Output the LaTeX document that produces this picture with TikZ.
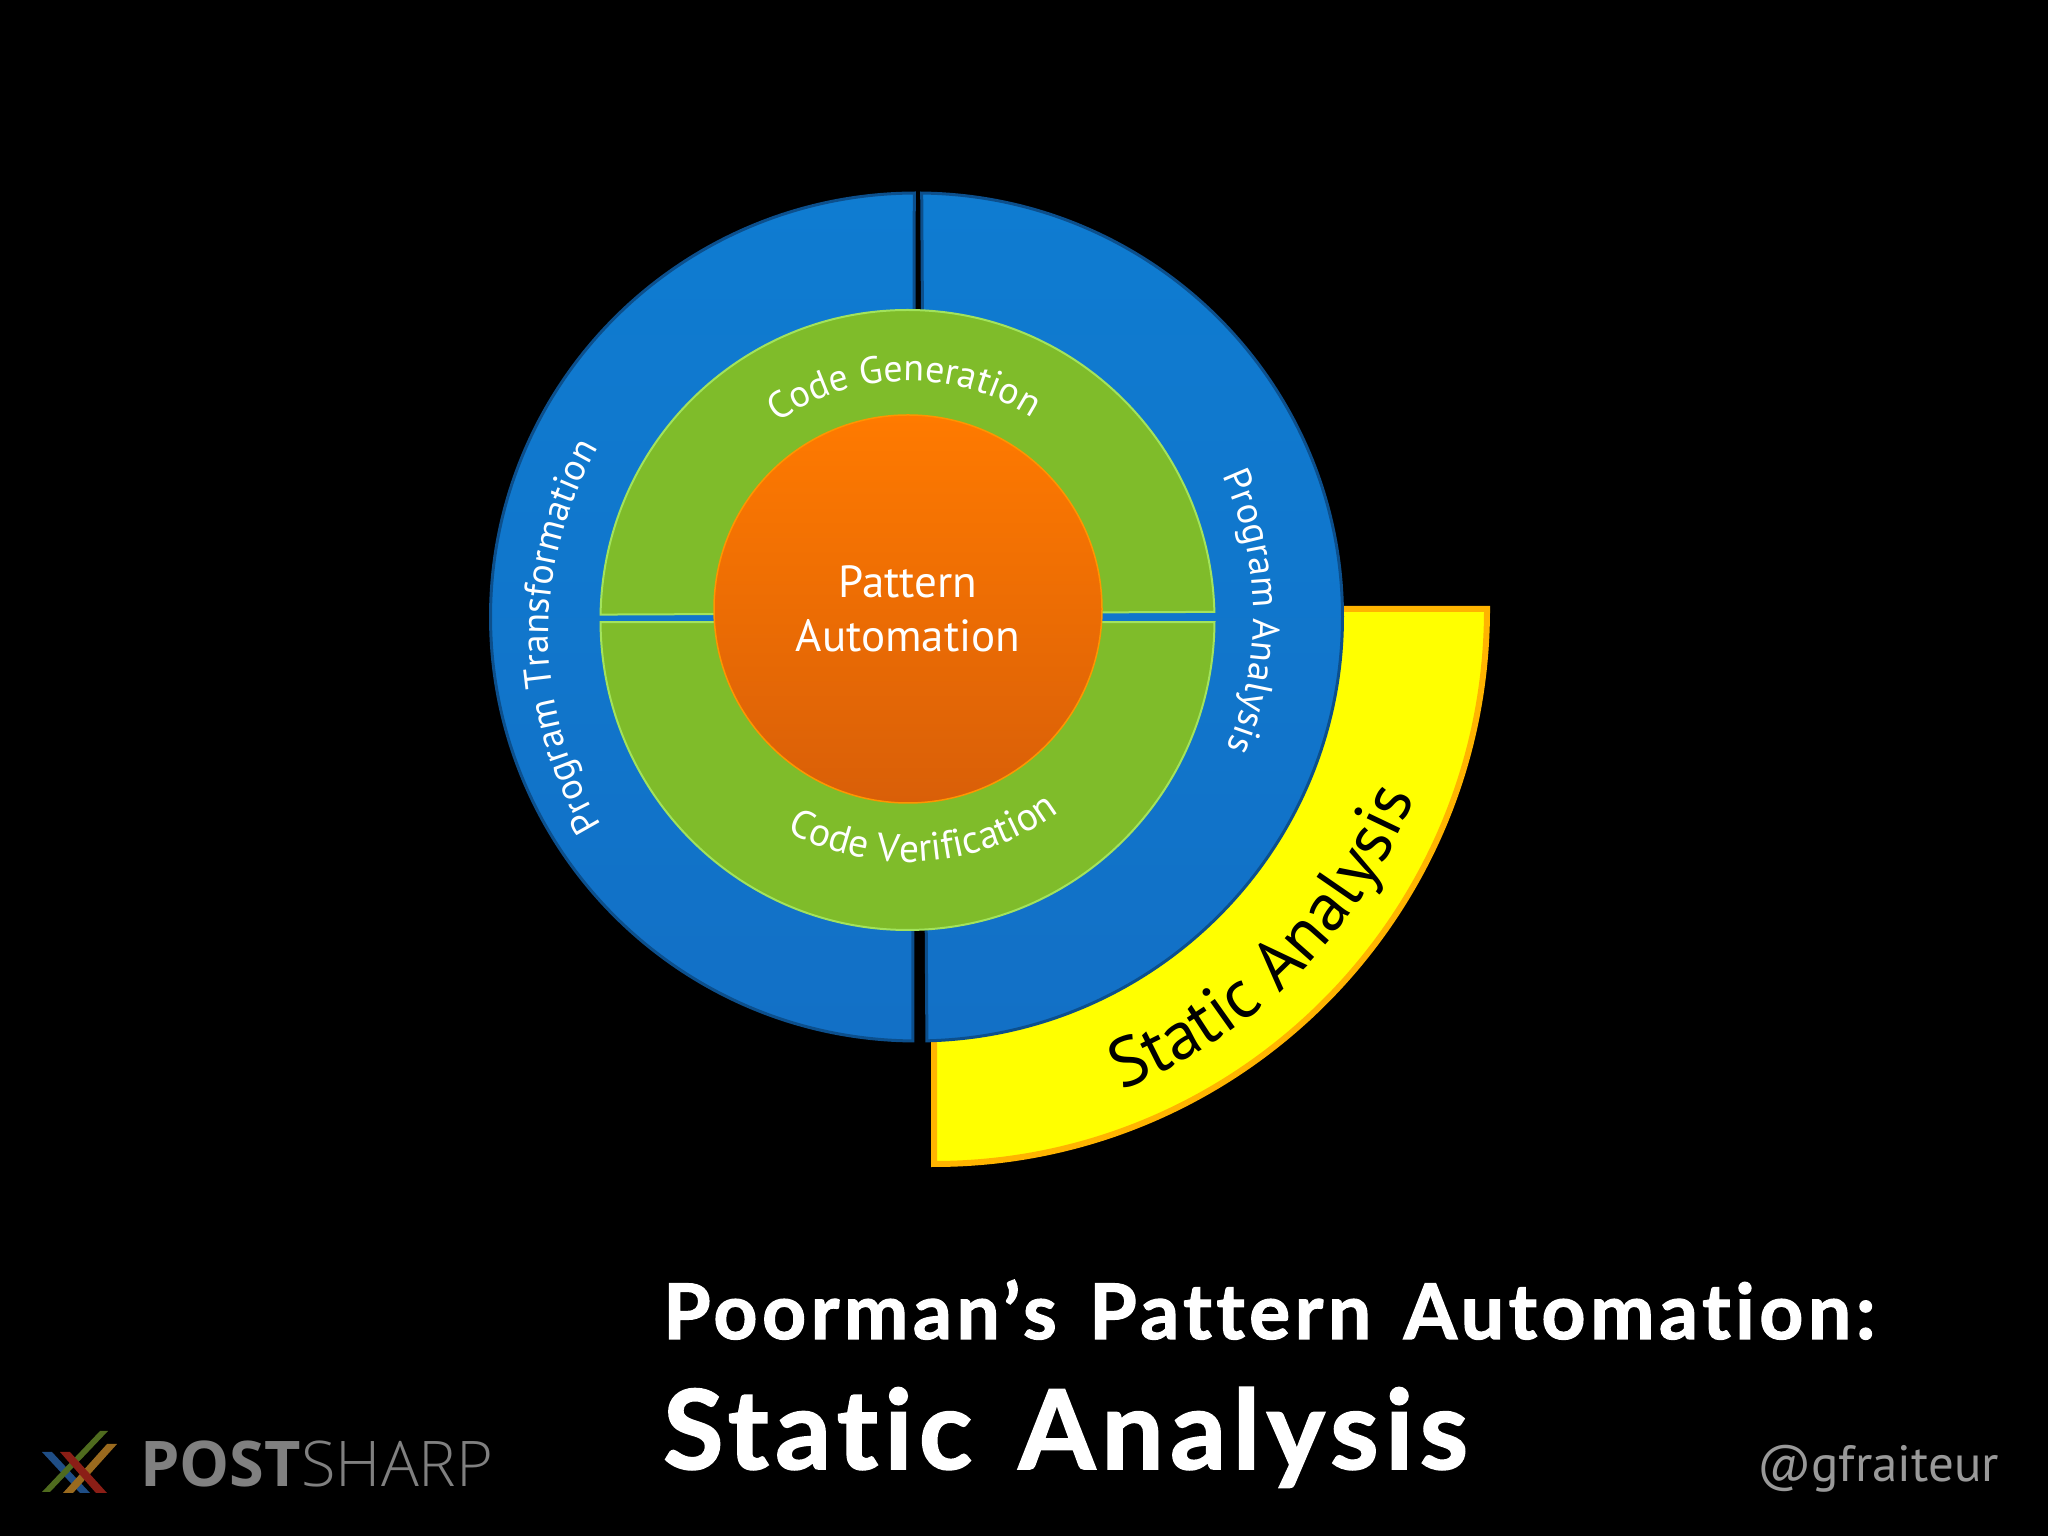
\documentclass[tikz,border=0pt]{standalone}
\usepackage{fontspec}
\usetikzlibrary{decorations.text}
\newfontfamily\ptfont{PT Sans}
\newfontfamily\titlefont[LetterSpace=6,WordSpace=1.4,Ligatures=NoCommon,BoldFeatures={FakeBold=1.6}]{Lato}
\newfontfamily\logofont{Open Sans}
\newfontfamily\logolight{Open Sans Light}
\definecolor{bluetop}{HTML}{0F7CD1}
\definecolor{bluebot}{HTML}{1270C6}
\definecolor{blueedge}{HTML}{0C4F8C}
\definecolor{ringgreen}{HTML}{7FBC2A}
\definecolor{greenedge}{HTML}{A2E35C}
\definecolor{orangetop}{HTML}{FF7A00}
\definecolor{orangebot}{HTML}{D95F08}
\definecolor{sectoryellow}{RGB}{255,255,0}
\definecolor{yellowedge}{HTML}{FFB400}
\definecolor{logogrey}{HTML}{808080}
\definecolor{logoblue}{HTML}{1F4E86}
\definecolor{logored}{HTML}{8B1E16}
\definecolor{logogreen}{HTML}{4F6B1E}
\definecolor{logoorange}{HTML}{9A6A1E}
\newcommand{\ringlabel}[1]{|\ptfont\fontsize{#1}{#1}\selectfont|}

\begin{document}
\begin{tikzpicture}[
    x=1pt, y=1pt,
    bluering/.style={top color=bluetop, bottom color=bluebot, draw=blueedge, line width=3pt},
    greenring/.style={fill=ringgreen, draw=greenedge, line width=2pt},
    curvedwhite/.style={decorate, decoration={text along path, text align=center, text color=white, text={#1}}},
    curvedblack/.style={decorate, decoration={text along path, text align=center, text color=black, text={#1}}},
    logobar/.style={fill=#1}
]

% Background
\fill[black] (0,0) rectangle (2048,1536);
\useasboundingbox (0,0) rectangle (2048,1536);

% Centres of the rings
\coordinate (bluec) at (916.5,919);
\coordinate (greenc) at (907.5,916);
\coordinate (orangec) at (908,928);
\coordinate (yellowc) at (934,927);

% Static analysis sector
\draw[fill=sectoryellow, draw=yellowedge, line width=6pt, line join=miter]
    (yellowc) -- ++(0,-555) arc[start angle=270, end angle=360, x radius=553, y radius=555] -- cycle;

% Outer ring
\path[bluering] ([shift={(90.3:426 and 424)}]bluec) arc[start angle=90.3, end angle=269.5, x radius=426, y radius=424] -- cycle;
\path[bluering] ([shift={(89.3:426 and 424)}]bluec) arc[start angle=89.3, end angle=-88.6, x radius=426, y radius=424] -- cycle;

% Middle ring
\path[greenring] ([shift={(1.5:307 and 310)}]greenc) arc[start angle=1.5, end angle=179, x radius=307, y radius=310] -- cycle;
\path[greenring] ([shift={(180.4:307 and 310)}]greenc) arc[start angle=180.4, end angle=359.6, x radius=307, y radius=310] -- cycle;

% Core
\node[circle, minimum size=388pt, inner sep=0pt, top color=orangetop, bottom color=orangebot, draw=orangetop!80!yellow, line width=1.5pt, text=white, align=center, font=\ptfont\fontsize{45}{54}\selectfont] (core) at (908,927) {Pattern\\Automation};

% Curved labels
\path[curvedwhite={\ringlabel{38}Code Generation}] ([shift={(140:227)}]orangec) arc[start angle=140, end angle=42, radius=227];
\path[curvedwhite={\ringlabel{39.5}Code Verification}] ([shift={(220:254)}]orangec) arc[start angle=220, end angle=328, radius=254];
\coordinate (transformc) at (918.5,902);
\path[curvedwhite={\ringlabel{38}Program Transformation}] ([shift={(235.5:370)}]transformc) arc[start angle=235.5, end angle=125.5, radius=370];
\path[curvedwhite={\ringlabel{38}Program Analysis}] ([shift={(35:337)}]bluec) arc[start angle=35, end angle=-33, radius=337];
\path[curvedblack={\ringlabel{69}Static Analysis}] ([shift={(-73:516)}]yellowc) arc[start angle=-73, end angle=-17, radius=516];

% Title
\node[anchor=base west, inner sep=0pt, text=white, font=\titlefont\bfseries\fontsize{76.7}{76.7}\selectfont] (title) at (663,197) {Poorman’s Pattern Automation:};
\node[anchor=base west, inner sep=0pt, text=white, font=\titlefont\bfseries\fontsize{110}{110}\selectfont] (subtitle) at (663,67) {Static Analysis};
\node[anchor=base west, inner sep=0pt, text=white!60!black, font=\ptfont\fontsize{51}{51}\selectfont] (handle) at (1757,54) {@gfraiteur};

% Logo
\fill[logobar=logoblue] (42,84) -- (52,84) -- (90,43) -- (80,43) -- cycle;
\fill[logobar=logoorange] (63,43) -- (73,43) -- (117,92) -- (107,92) -- cycle;
\fill[logobar=logogreen] (42,44) -- (50,44) -- (108,105) -- (100,105) -- cycle;
\fill[logobar=logored] (60,84) -- (70,84) -- (107,43) -- (96,43) -- cycle;
\node[anchor=base west, inner sep=0pt, text=logogrey, font=\logofont\bfseries\fontsize{63}{63}\selectfont] (logopost) at (140,49) {POST};
\node[anchor=base west, inner sep=0pt, text=logogrey, font=\logolight\fontsize{63}{63}\selectfont] (logosharp) at (logopost.base east) {SHARP};

\end{tikzpicture}
\end{document}
